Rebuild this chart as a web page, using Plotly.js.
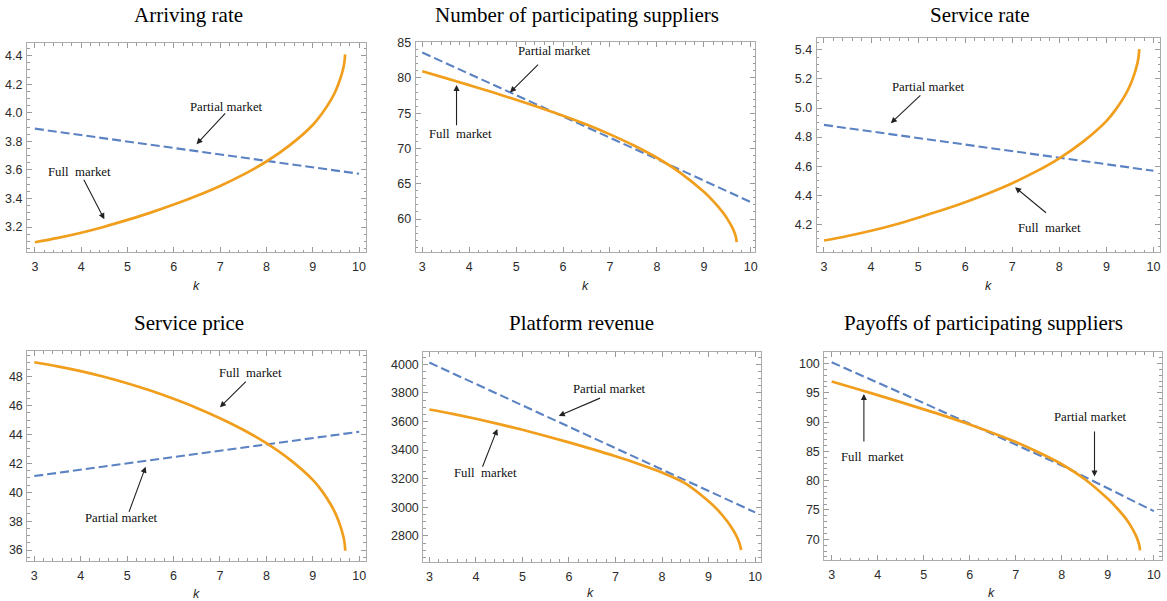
<!DOCTYPE html>
<html>
<head>
<meta charset="utf-8">
<script src="https://cdn.plot.ly/plotly-3.0.1.min.js"></script>
<style>html,body{margin:0;padding:0;background:#fff;}#chart{width:1167px;height:601px;}</style>
</head>
<body>
<div id="chart"></div>
<script>
// ---- data ----
const kFull = [3, 3.5, 4, 4.5, 5, 5.5, 6, 6.5, 7, 7.5, 8, 8.5, 9, 9.2, 9.4, 9.5, 9.6, 9.65, 9.68, 9.7];
const kPartial = [3, 4, 5, 6, 7, 8, 9, 10];

const arrivingFull = [3.093, 3.124, 3.16, 3.202, 3.25, 3.301, 3.357, 3.419, 3.488, 3.567, 3.659, 3.772, 3.915, 3.995, 4.094, 4.158, 4.244, 4.3, 4.346, 4.41];
const arrivingPartial = [3.889, 3.844, 3.799, 3.754, 3.708, 3.663, 3.618, 3.573];

const suppliersFull = [80.94, 79.97, 78.98, 77.96, 76.9, 75.8, 74.65, 73.4, 72.0, 70.45, 68.68, 66.55, 63.85, 62.53, 60.97, 60.02, 58.87, 58.12, 57.52, 56.72];
const suppliersPartial = [83.6, 80.6, 77.6, 74.6, 71.55, 68.5, 65.45, 62.4];

const serviceRateFull = [4.088, 4.119, 4.155, 4.197, 4.245, 4.296, 4.352, 4.414, 4.483, 4.562, 4.654, 4.767, 4.91, 4.99, 5.089, 5.153, 5.239, 5.295, 5.341, 5.405];
const serviceRatePartial = [4.884, 4.839, 4.794, 4.749, 4.703, 4.658, 4.613, 4.568];

const priceFull = [49.0, 48.72, 48.39, 48.0, 47.55, 47.04, 46.47, 45.84, 45.13, 44.33, 43.4, 42.28, 40.86, 40.08, 39.08, 38.45, 37.6, 37.05, 36.6, 35.95];
const pricePartial = [41.12, 41.56, 42.0, 42.44, 42.87, 43.31, 43.75, 44.19];

const revenueFull = [3684, 3653, 3619, 3582, 3542, 3499, 3454, 3407, 3357, 3303, 3243, 3168, 3043, 2981, 2903, 2855, 2799, 2761, 2731, 2701];
const revenuePartial = [4012, 3862, 3712, 3562, 3412, 3262, 3113, 2965];

const payoffFull = [96.93, 95.78, 94.6, 93.4, 92.17, 90.93, 89.6, 88.15, 86.6, 84.8, 82.8, 80.25, 76.9, 75.3, 73.45, 72.25, 70.8, 69.85, 69.1, 68.1];
const payoffPartial = [100.2, 96.75, 93.25, 89.7, 86.15, 82.6, 78.7, 74.8];

const panelTitles = ["Arriving rate", "Number of participating suppliers", "Service rate",
                     "Service price", "Platform revenue", "Payoffs of participating suppliers"];
const xLabel = "k";
const fullLabel = "Full\u00a0 market";
const partialLabel = "Partial market";

const fullSeries = [arrivingFull, suppliersFull, serviceRateFull, priceFull, revenueFull, payoffFull];
const partialSeries = [arrivingPartial, suppliersPartial, serviceRatePartial, pricePartial, revenuePartial, payoffPartial];

// ---- layout geometry (pixels in the 1167x601 page) ----
const W = 1167, H = 601;
const frames = [ // [left, right, top, bottom]
  [27, 366, 43, 252], [415.7, 755, 42.3, 252.3], [816.7, 1160, 38.3, 252.3],
  [27.3, 365.7, 351, 560.7], [423.3, 760.7, 351.7, 561.7], [824.3, 1161.7, 352.3, 560]
];
const xRanges = [[2.83, 10.15], [2.86, 10.09], [2.845, 10.14], [2.85, 10.14], [2.87, 10.12], [2.84, 10.17]];
const yRanges = [[3.025, 4.489], [55.28, 85.05], [4.007, 5.48], [35.26, 49.78], [2620, 4088], [66.47, 101.9]];
const yDticks = [0.2, 5, 0.2, 2, 200, 5];
const yMinor = [0.05, 1, 0.05, 0.5, 50, 1];
const yFormats = ['.1f', '', '.1f', '', '', ''];
const titlePos = [[188, 15], [576.7, 15], [979.7, 15], [189, 322.7], [581.7, 323.3], [983.3, 323.3]];
const kPos = [[196.7, 285.7], [585, 285.7], [988.3, 285.7], [196.7, 593.5], [590.7, 593.3], [991, 593.3]];

// annotation positions (data coords): [textX, textY, tailX, tailY, tipX, tipY]
const fullNotes = [
  [3.96, 3.583, 4.04, 3.541, 4.50, 3.254],
  [3.82, 72.01, 3.73, 73.09, 3.73, 79.0],
  [7.80, 4.173, 7.75, 4.271, 7.06, 4.455],
  [7.66, 48.28, 7.59, 47.77, 7.00, 45.88],
  [4.20, 3238, 4.13, 3273, 4.46, 3548],
  [3.89, 84.03, 3.70, 86.42, 3.70, 94.8]
];
const partialNotes = [
  [7.14, 4.043, 7.14, 4.006, 6.49, 3.78],
  [5.81, 83.75, 5.50, 82.1, 4.87, 77.95],
  [5.23, 5.147, 5.08, 5.097, 4.42, 4.895],
  [4.88, 38.19, 5.03, 38.54, 5.40, 41.77],
  [6.88, 3830, 6.70, 3768, 5.78, 3639],
  [8.62, 90.8, 8.71, 88.65, 8.71, 80.72]
];

const ORANGE = '#F09E1C', BLUE = '#5B82C2';
const FRAME = '#ababab', TICKC = '#9a9a9a';
const serif = 'Liberation Serif, Times New Roman, serif';
const sans = 'Liberation Sans, Arial, sans-serif';

const traces = [];
const layout = {
  width: W, height: H,
  margin: {l: 0, r: 0, t: 0, b: 0},
  paper_bgcolor: '#ffffff', plot_bgcolor: '#ffffff',
  showlegend: false,
  annotations: []
};

for (let i = 0; i < 6; i++) {
  const n = i === 0 ? '' : String(i + 1);
  const xa = 'x' + n, ya = 'y' + n;
  const f = frames[i];
  const common = {
    ticks: 'inside', ticklen: 5, tickwidth: 1, tickcolor: TICKC,
    showline: true, linecolor: FRAME, linewidth: 1, mirror: 'ticks',
    showgrid: false, zeroline: false,
    tickfont: {family: sans, size: 12.5, color: '#2b2b2b'}
  };
  layout['xaxis' + n] = Object.assign({}, common, {
    domain: [f[0] / W, f[1] / W], range: xRanges[i], anchor: ya,
    tick0: 0, dtick: 1, ticklabelstandoff: 3,
    minor: {ticks: 'inside', ticklen: 2.5, dtick: 0.2, tickcolor: TICKC, tickwidth: 1}
  });
  layout['yaxis' + n] = Object.assign({}, common, {
    domain: [1 - f[3] / H, 1 - f[2] / H], range: yRanges[i], anchor: xa,
    tick0: 0, dtick: yDticks[i], tickformat: yFormats[i], ticklabelstandoff: 1,
    minor: {ticks: 'inside', ticklen: 2.5, dtick: yMinor[i], tickcolor: TICKC, tickwidth: 1}
  });

  traces.push({
    x: kPartial, y: partialSeries[i], xaxis: xa, yaxis: ya, mode: 'lines',
    line: {color: BLUE, width: 2.1, dash: '9px,4px'}, name: partialLabel, hoverinfo: 'skip'
  });
  traces.push({
    x: kFull, y: fullSeries[i], xaxis: xa, yaxis: ya, mode: 'lines',
    line: {color: ORANGE, width: 2.7, shape: 'spline', smoothing: 1}, name: fullLabel, hoverinfo: 'skip'
  });

  // panel title
  layout.annotations.push({
    xref: 'paper', yref: 'paper', x: titlePos[i][0] / W, y: 1 - titlePos[i][1] / H,
    xanchor: 'center', yanchor: 'middle', showarrow: false, text: panelTitles[i],
    font: {family: serif, size: 21, color: '#000'}
  });
  // x label
  layout.annotations.push({
    xref: 'paper', yref: 'paper', x: kPos[i][0] / W, y: 1 - kPos[i][1] / H,
    xanchor: 'center', yanchor: 'middle', showarrow: false, text: '<i>' + xLabel + '</i>',
    font: {family: sans, size: 12.5, color: '#2b2b2b'}
  });

  const notes = [[fullNotes[i], fullLabel], [partialNotes[i], partialLabel]];
  for (const [p, label] of notes) {
    layout.annotations.push({
      xref: xa, yref: ya, x: p[0], y: p[1], showarrow: false, text: label,
      xanchor: 'center', yanchor: 'middle',
      font: {family: serif, size: 12.8, color: '#111'}
    });
    layout.annotations.push({
      xref: xa, yref: ya, x: p[4], y: p[5], axref: xa, ayref: ya, ax: p[2], ay: p[3],
      text: '', showarrow: true, arrowhead: 2, arrowsize: 1.1, arrowwidth: 1.1, arrowcolor: '#222'
    });
  }
}

Plotly.newPlot('chart', traces, layout, {displayModeBar: false, staticPlot: true});
</script>
</body>
</html>
